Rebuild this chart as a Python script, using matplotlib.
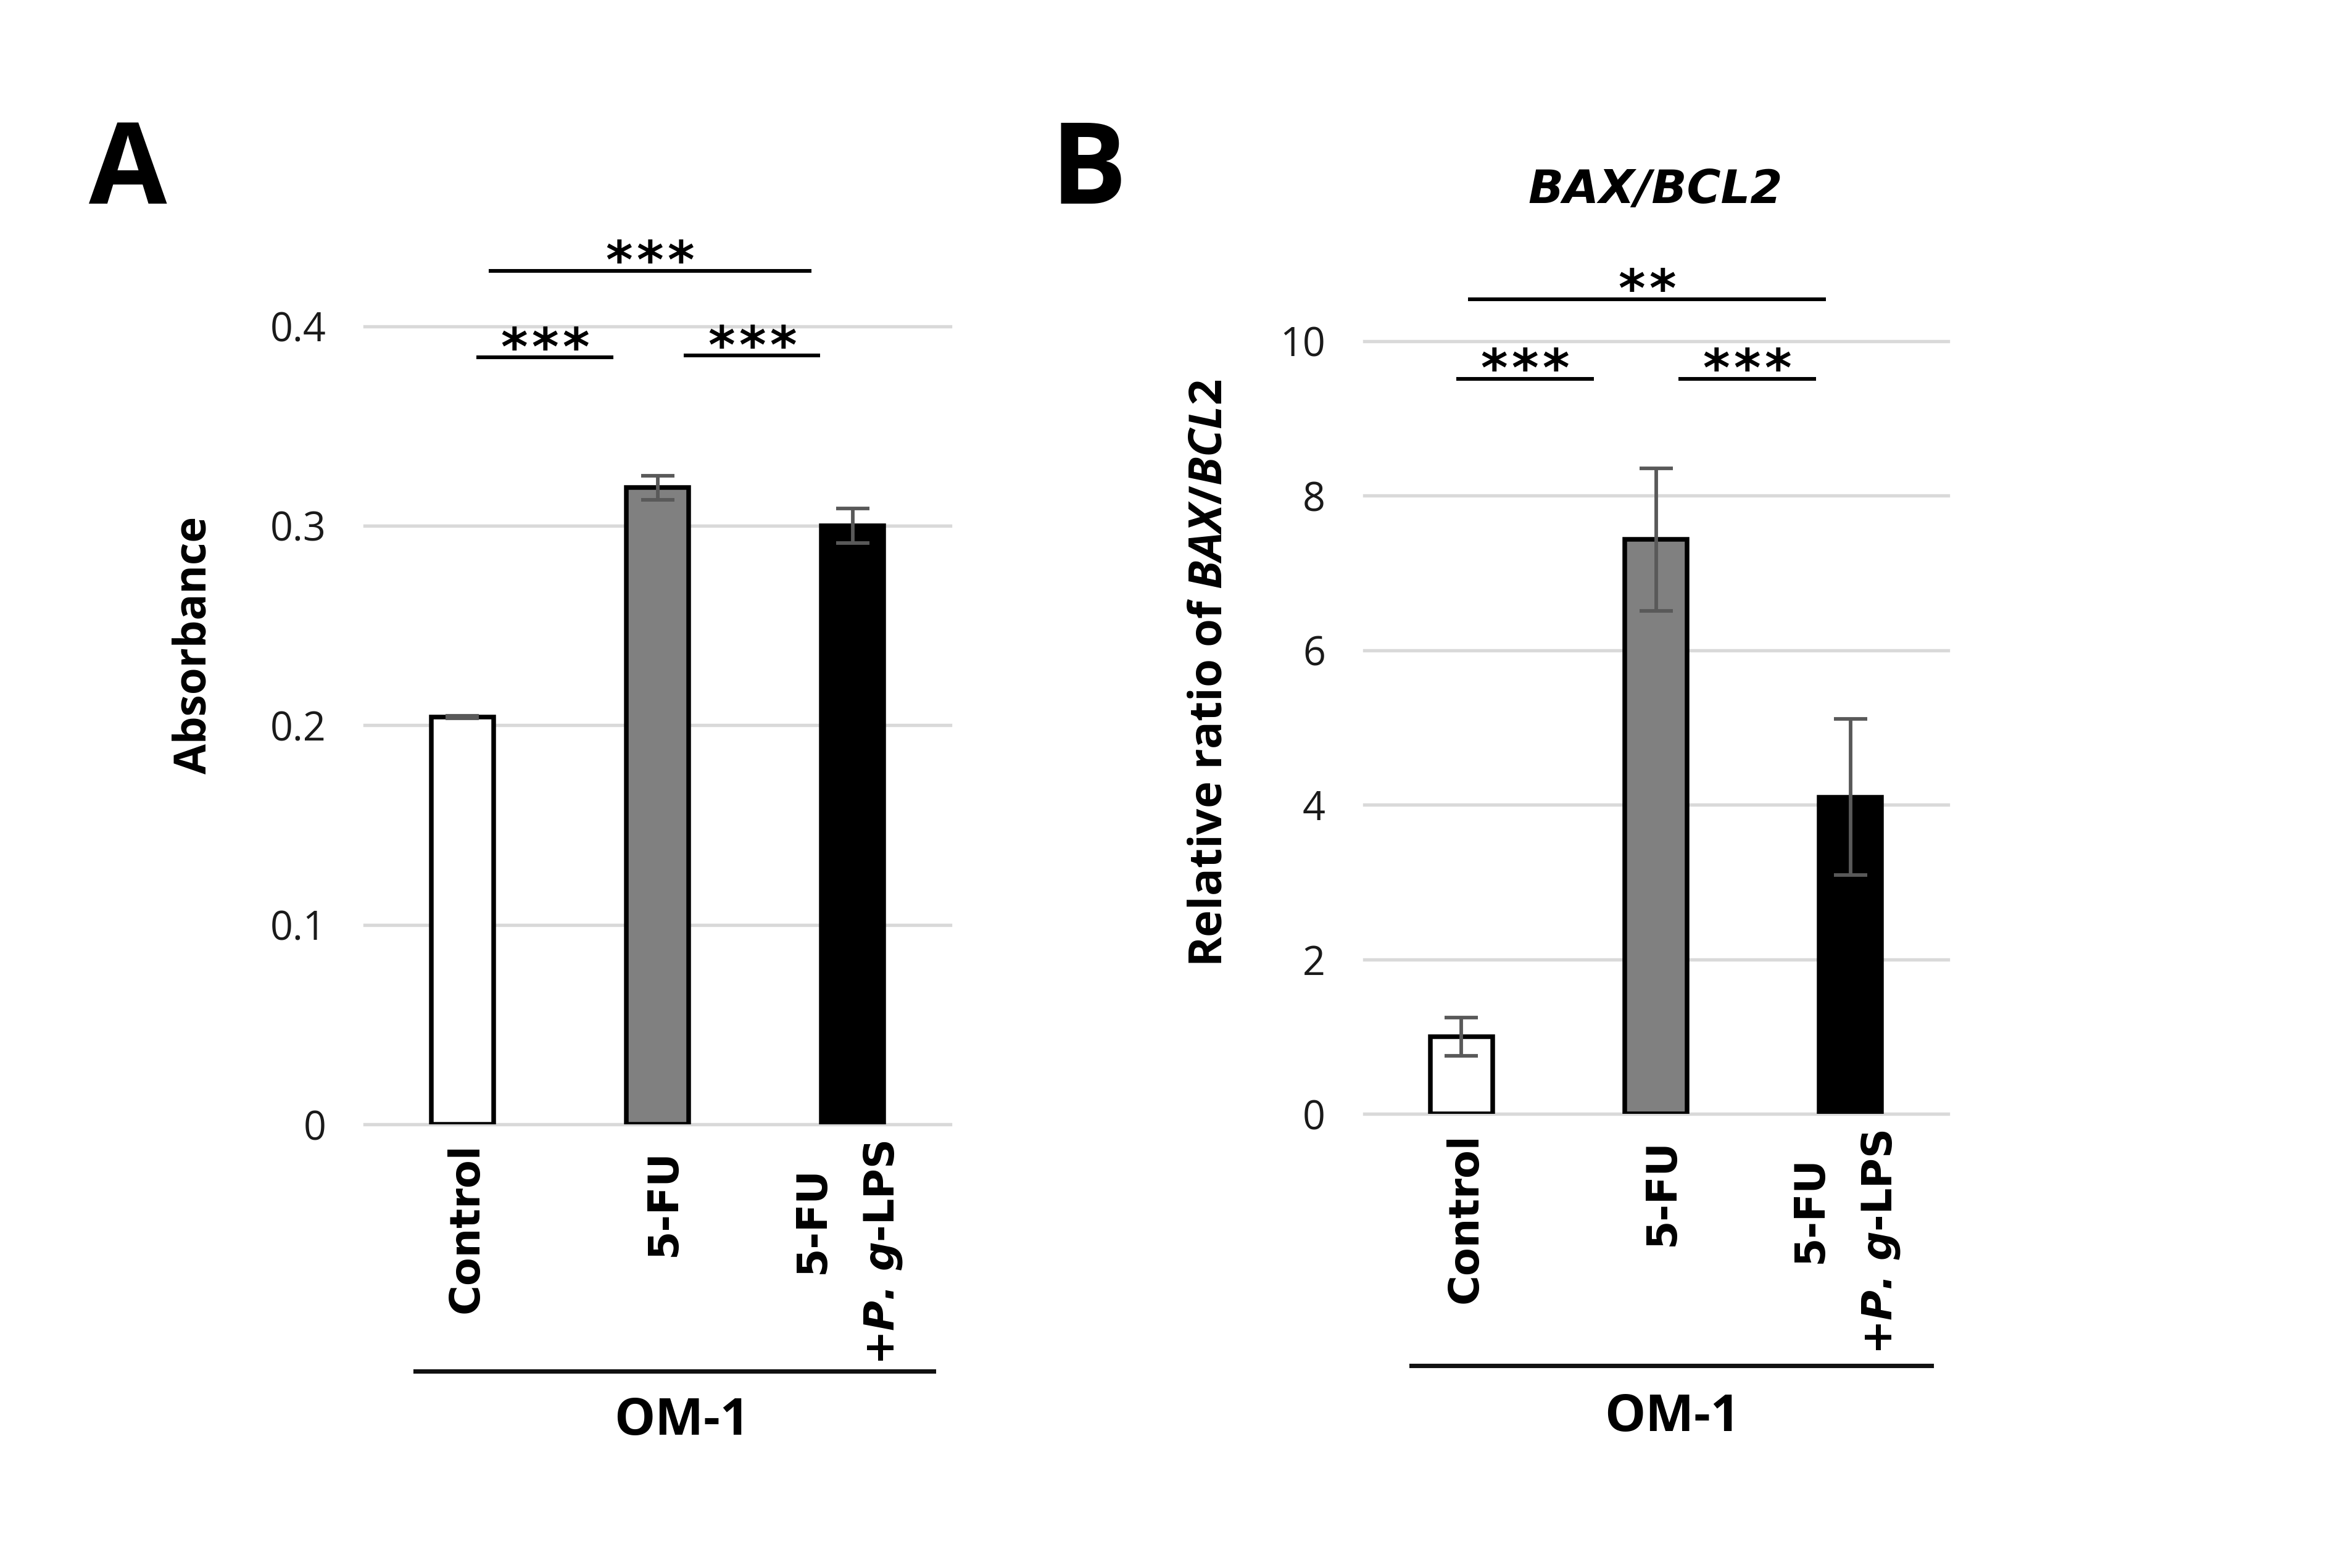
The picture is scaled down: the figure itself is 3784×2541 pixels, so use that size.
import matplotlib
matplotlib.use("Agg")
import matplotlib.pyplot as plt
import numpy as np

# ---------------- data ----------------
categories = ["Control", "5-FU", "5-FU\n+$\\mathbfit{P.\\,g}$-LPS"]
group_label = "OM-1"

absorbance = [0.204, 0.319, 0.300]
absorbance_err = [0.0006, 0.006, 0.0086]
a_ticks = [0, 0.1, 0.2, 0.3, 0.4]
a_ticklabels = ["0", "0.1", "0.2", "0.3", "0.4"]

bax_bcl2 = [1.0, 7.43, 4.10]
bax_bcl2_err = [0.25, 0.925, 1.01]
b_ticks = [0, 2, 4, 6, 8, 10]
b_ticklabels = ["0", "2", "4", "6", "8", "10"]

bar_colors = ["#FFFFFF", "#808080", "#000000"]

# significance annotations: (x_start, x_end, y, stars)
a_sig = [(0.134, 1.79, 0.4278, "***"),
         (0.071, 0.773, 0.3843, "***"),
         (1.135, 1.835, 0.3852, "***")]
b_sig = [(0.034, 1.872, 10.54, "**"),
         (-0.027, 0.680, 9.51, "***"),
         (1.115, 1.823, 9.51, "***")]

# ---------------- style ----------------
plt.rcParams["mathtext.fontset"] = "custom"
plt.rcParams["mathtext.it"] = "Open Sans:italic:bold"
plt.rcParams["mathtext.bfit"] = "DejaVu Sans:italic:bold"
plt.rcParams["mathtext.rm"] = "Open Sans:bold"
plt.rcParams["mathtext.bf"] = "DejaVu Sans:bold"

W, H, DPI = 3784, 2541, 300
fig = plt.figure(figsize=(W / DPI, H / DPI), dpi=DPI)
fig.patch.set_facecolor("white")


def fx(px):
    return px / W


def fy(py):
    return 1 - py / H


TICK_FONT = "Open Sans"
LABEL_FONT = "Open Sans"
CAT_FONT = "DejaVu Sans"

# per-line placement of rotated category labels (points: dx, drop below axis)
cat_line_offsets = [[(6, 7.4)], [(7, 9.6)], [(-11, 16.3), (16, 6.2)]]


def make_axes(left_px, right_px, bottom_px, top_px):
    return fig.add_axes([fx(left_px), fy(bottom_px), (right_px - left_px) / W,
                         (bottom_px - top_px) / H])


def draw_panel(ax, values, errs, ticks, ticklabels, sig):
    x = np.arange(len(values))
    ax.bar(x, values, width=0.32, color=bar_colors, edgecolor="black",
           linewidth=1.8, zorder=3)
    ax.errorbar(x, values, yerr=errs, fmt="none", ecolor="#595959",
                elinewidth=1.4, capsize=6.5, capthick=1.4, zorder=4)
    ax.set_xlim(-0.5, 2.5)
    ax.set_ylim(ticks[0], ticks[-1])
    ax.set_yticks(ticks)
    ax.set_yticklabels(ticklabels, fontfamily=TICK_FONT, fontsize=15.5,
                       color="#1a1a1a")
    ax.set_xticks([])
    ax.yaxis.grid(True, color="#D9D9D9", linewidth=1.3)
    ax.set_axisbelow(True)
    for gl in ax.get_ygridlines():
        gl.set_clip_on(False)
    for s in ax.spines.values():
        s.set_visible(False)
    ax.tick_params(axis="y", length=0, pad=15)
    ax.set_facecolor("none")

    # category labels (rotated, one annotation per line)
    for i, lab in enumerate(categories):
        for line, (dx, dy) in zip(lab.split("\n"), cat_line_offsets[i]):
            ax.annotate(line, xy=(i, 0), xycoords=("data", "axes fraction"),
                        xytext=(dx, -dy), textcoords="offset points",
                        rotation=90, rotation_mode="anchor",
                        ha="right", va="baseline",
                        fontfamily=CAT_FONT, fontweight="bold", fontsize=16,
                        annotation_clip=False)

    # significance brackets
    for x1, x2, y, stars in sig:
        ax.plot([x1, x2], [y, y], color="black", lw=1.45, clip_on=False,
                solid_capstyle="butt", zorder=5)
        xm = (x1 + x2) / 2
        n = len(stars)
        for k, ch in enumerate(stars):
            dx = (k - (n - 1) / 2) * 12.0
            ax.annotate(ch, xy=(xm, y), xytext=(dx, -2.7),
                        textcoords="offset points", ha="center", va="baseline",
                        fontfamily="DejaVu Sans", fontweight="bold",
                        fontsize=20, annotation_clip=False)


# ---------------- panel A ----------------
axA = make_axes(591.3, 1539.7, 1822.0, 528.5)
draw_panel(axA, absorbance, absorbance_err, a_ticks, a_ticklabels, a_sig)

# ---------------- panel B ----------------
axB = make_axes(2210.6, 3156.6, 1805.1, 552.6)
draw_panel(axB, bax_bcl2, bax_bcl2_err, b_ticks, b_ticklabels, b_sig)

# axis labels
fig.text(fx(314), fy(1045), "Absorbance", rotation=90, ha="center",
         va="center", fontfamily=LABEL_FONT, fontweight="bold", fontsize=17)
fig.text(fx(1960), fy(1091), "Relative ratio of $\\mathit{BAX/BCL2}$",
         rotation=90, ha="center", va="center", fontfamily=LABEL_FONT,
         fontweight="bold", fontsize=17.8)

# title of panel B
fig.text(fx(2683), fy(309), "BAX/BCL2", ha="center", va="center",
         fontfamily="DejaVu Sans", fontweight="bold", fontstyle="italic",
         fontsize=18)

# panel letters
fig.text(fx(207), fy(283), "A", ha="center", va="center",
         fontfamily=LABEL_FONT, fontweight="bold", fontsize=44)
fig.text(fx(1764), fy(283), "B", ha="center", va="center",
         fontfamily=LABEL_FONT, fontweight="bold", fontsize=44)

# group lines and labels
for (x1, x2, yl, xt, yt) in [(673, 1513, 2222, 1105, 2304),
                             (2287, 3130, 2213, 2710, 2297)]:
    fig.add_artist(plt.Line2D([fx(x1), fx(x2)], [fy(yl), fy(yl)],
                              color="#111111", lw=1.7,
                              transform=fig.transFigure))
    fig.text(fx(xt), fy(yt), group_label, ha="center", va="center",
             fontfamily=LABEL_FONT, fontweight="bold", fontsize=20)

fig.savefig("out.png", dpi=DPI, facecolor="white")
